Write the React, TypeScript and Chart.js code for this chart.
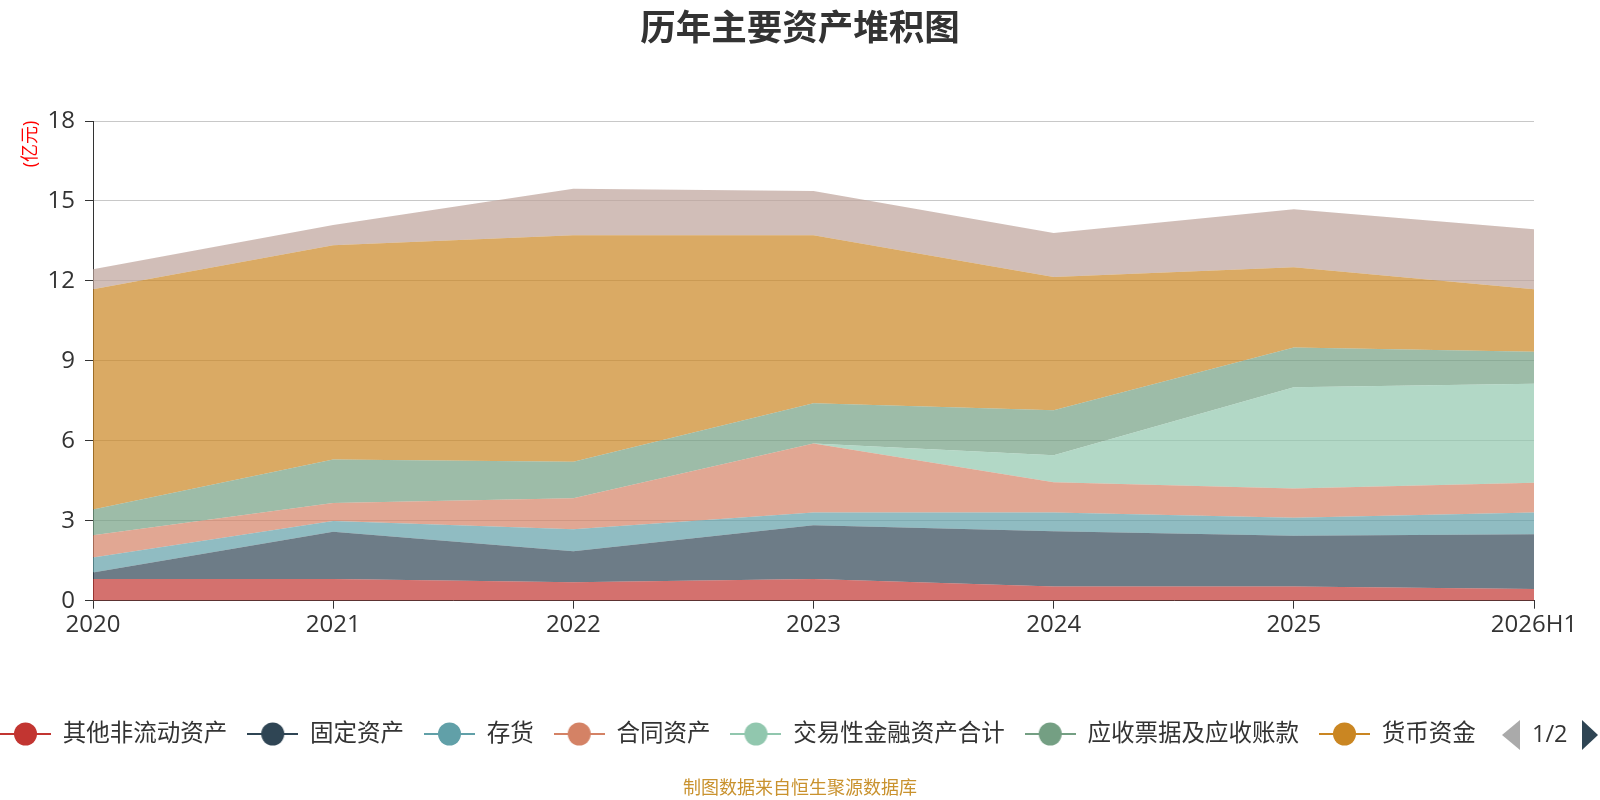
import { Chart, registerables } from "chart.js";
import { useEffect, useRef } from "react";

Chart.register(...registerables);

// categories
const years = ["2020", "2021", "2022", "2023", "2024", "2025", "2026H1"];

// series values (亿元), stacked bottom to top
const otherNonCurrent = [0.81, 0.81, 0.69, 0.81, 0.53, 0.53, 0.44];
const fixedAssets = [0.25, 1.78, 1.17, 2.02, 2.08, 1.91, 2.05];
const inventory = [0.56, 0.4, 0.82, 0.48, 0.7, 0.67, 0.82];
const contractAssets = [0.84, 0.68, 1.16, 2.59, 1.13, 1.1, 1.12];
const tradingFinancial = [0, 0, 0, 0, 1.02, 3.8, 3.71];
const receivables = [0.96, 1.63, 1.37, 1.51, 1.69, 1.49, 1.2];
const cash = [8.27, 8.04, 8.5, 6.3, 5.0, 3.01, 2.35];
const others = [0.75, 0.76, 1.75, 1.66, 1.65, 2.18, 2.25];

const seriesNames = [
  "其他非流动资产",
  "固定资产",
  "存货",
  "合同资产",
  "交易性金融资产合计",
  "应收票据及应收账款",
  "货币资金",
  "其他",
];
const seriesData = [
  otherNonCurrent,
  fixedAssets,
  inventory,
  contractAssets,
  tradingFinancial,
  receivables,
  cash,
  others,
];
const seriesColors = [
  "#c23531",
  "#2f4554",
  "#61a0a8",
  "#d48265",
  "#91c7ae",
  "#749f83",
  "#ca8622",
  "#bda29a",
];

// y axis range (亿元)
const yMin = 0;
const yMax = 18;
const yStep = 3;

const FONT = '"Open Sans", "Noto Sans CJK SC", sans-serif';
const LEGEND_PAD = 20;

const hexToRgba = (hex: string, a: number) => {
  const n = parseInt(hex.slice(1), 16);
  return `rgba(${(n >> 16) & 255}, ${(n >> 8) & 255}, ${n & 255}, ${a})`;
};

// line + dot marker like the original legend
const makeMarker = (color: string) => {
  const c = document.createElement("canvas");
  c.width = 51;
  c.height = 26;
  const g = c.getContext("2d");
  if (g) {
    g.strokeStyle = color;
    g.lineWidth = 2;
    g.beginPath();
    g.moveTo(0, 13);
    g.lineTo(51, 13);
    g.stroke();
    g.fillStyle = color;
    g.beginPath();
    g.arc(25.5, 13, 11.5, 0, Math.PI * 2);
    g.fill();
  }
  return c;
};

const extras = {
  id: "extras",
  afterLayout(chart: any) {
    // legend row starts at the very left edge, like the paged legend
    if (chart.legend) chart.legend.left = -LEGEND_PAD;
  },
  afterDraw(chart: any) {
    const ctx = chart.ctx;
    ctx.save();

    // y axis unit
    ctx.translate(31, 144);
    ctx.rotate(-Math.PI / 2);
    ctx.fillStyle = "#ff0000";
    ctx.font = `18px ${FONT}`;
    ctx.textAlign = "center";
    ctx.textBaseline = "middle";
    ctx.fillText("(亿元)", 0, 0);
    ctx.restore();

    ctx.save();
    // legend pager
    ctx.fillStyle = "#aaaaaa";
    ctx.beginPath();
    ctx.moveTo(1520, 720);
    ctx.lineTo(1520, 750);
    ctx.lineTo(1502, 735);
    ctx.closePath();
    ctx.fill();
    ctx.fillStyle = "#333333";
    ctx.font = `23.5px ${FONT}`;
    ctx.textAlign = "left";
    ctx.textBaseline = "middle";
    ctx.fillText("1/2", 1532, 735);
    ctx.fillStyle = "#2f4554";
    ctx.beginPath();
    ctx.moveTo(1582, 720);
    ctx.lineTo(1582, 750);
    ctx.lineTo(1598, 735);
    ctx.closePath();
    ctx.fill();

    // source note
    ctx.fillStyle = "#c9922e";
    ctx.font = `18px ${FONT}`;
    ctx.textAlign = "center";
    ctx.fillText("制图数据来自恒生聚源数据库", 800, 789);
    ctx.restore();
  },
};

const App = () => {
  const chartRef = useRef<HTMLCanvasElement>(null);
  const chartInstance = useRef<Chart | null>(null);

  useEffect(() => {
    document.body.style.margin = "0";
    if (!chartRef.current) return;
    if (chartInstance.current) chartInstance.current.destroy();

    const markers = seriesColors.map(makeMarker);

    chartInstance.current = new Chart(chartRef.current, {
      type: "line",
      data: {
        labels: years,
        datasets: seriesNames.map((name, i) => ({
          label: name,
          data: seriesData[i],
          backgroundColor: hexToRgba(seriesColors[i], 0.7),
          borderColor: seriesColors[i],
          borderWidth: 0,
          pointRadius: 0,
          pointHoverRadius: 0,
          tension: 0,
          fill: i === 0 ? "origin" : "-1",
        })),
      },
      options: {
        responsive: true,
        maintainAspectRatio: false,
        animation: false,
        layout: { padding: { top: 0, left: 0, right: 0, bottom: 44.25 } },
        plugins: {
          title: {
            display: true,
            text: "历年主要资产堆积图",
            color: "#333333",
            font: { family: '"Noto Sans CJK SC", sans-serif', size: 35.5, weight: "bold" },
            padding: { top: 5, bottom: 73.4 },
          },
          legend: {
            position: "bottom",
            align: "start",
            labels: {
              usePointStyle: true,
              pointStyleWidth: 51,
              padding: LEGEND_PAD,
              color: "#333333",
              font: { family: FONT, size: 23.5 },
              generateLabels: () =>
                seriesNames.slice(0, 7).map((name, i) => ({
                  text: name,
                  fillStyle: seriesColors[i],
                  strokeStyle: seriesColors[i],
                  lineWidth: 0,
                  pointStyle: markers[i],
                  hidden: false,
                  datasetIndex: i,
                  fontColor: "#333333",
                })),
            },
          },
          tooltip: { enabled: false },
        },
        scales: {
          x: {
            type: "category",
            offset: false,
            grid: {
              display: true,
              drawOnChartArea: false,
              drawTicks: true,
              tickLength: 8,
              tickColor: "#333333",
              tickWidth: 1,
            },
            border: { display: true, color: "#333333", width: 1 },
            ticks: {
              color: "#333333",
              font: { family: FONT, size: 24 },
              padding: 2,
              maxRotation: 0,
              autoSkip: false,
            },
            afterFit: (s: any) => {
              s.height = 101.55;
              s.paddingLeft = 0;
              // keeps the plot clear of the right edge
              s.paddingRight = 66;
            },
          },
          y: {
            stacked: true,
            min: yMin,
            max: yMax,
            ticks: {
              stepSize: yStep,
              color: "#333333",
              font: { family: FONT, size: 24 },
              padding: 10,
            },
            grid: {
              color: "#c8c8c8",
              lineWidth: 1,
              drawTicks: true,
              tickLength: 8,
              tickColor: "#333333",
            },
            border: { display: true, color: "#333333", width: 1 },
            afterFit: (s: any) => {
              s.width = 93;
            },
          },
        },
      },
      plugins: [extras],
    });

    return () => {
      if (chartInstance.current) {
        chartInstance.current.destroy();
        chartInstance.current = null;
      }
    };
  }, []);

  return (
    <div style={{ position: "relative", width: "1600px", height: "800px" }}>
      <canvas ref={chartRef}></canvas>
    </div>
  );
};

export default App;
